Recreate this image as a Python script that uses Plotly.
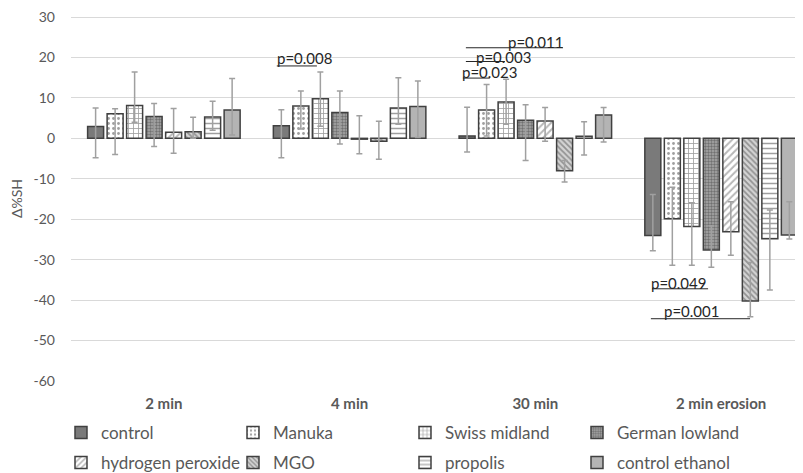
import plotly.graph_objects as go

categories = ["2 min", "4 min", "30 min", "2 min erosion"]
y_tick_values = [30, 20, 10, 0, -10, -20, -30, -40, -50, -60]
y_tick_labels = ["30", "20", "10", "0", "-10", "-20", "-30", "-40", "-50", "-60"]

series_names = ["control", "Manuka", "Swiss midland", "German lowland",
                "hydrogen peroxide", "MGO", "propolis", "control ethanol"]

control = [2.9, 3.1, 0.6, -24.0]
control_hi = [7.5, 7.1, 7.7, -13.9]
control_lo = [-4.8, -4.8, -3.4, -27.8]

manuka = [6.1, 8.0, 7.0, -19.9]
manuka_hi = [7.3, 11.7, 13.3, -12.1]
manuka_lo = [-4.0, 2.3, 0.6, -31.4]

swiss = [8.1, 9.8, 9.0, -21.8]
swiss_hi = [16.4, 16.4, 14.6, -15.9]
swiss_lo = [4.0, 3.0, 3.5, -31.4]

german = [5.4, 6.4, 4.5, -27.6]
german_hi = [8.6, 11.7, 8.3, -21.6]
german_lo = [-2.0, -1.4, -5.5, -31.9]

h2o2 = [1.5, -0.2, 4.3, -23.1]
h2o2_hi = [7.4, 5.6, 7.6, -15.7]
h2o2_lo = [-3.7, -3.8, -0.7, -28.9]

mgo = [1.6, -0.7, -8.0, -40.2]
mgo_hi = [5.2, 4.2, -5.5, -30.7]
mgo_lo = [0.0, -5.2, -10.8, -44.1]

propolis = [5.3, 7.5, 0.5, -24.8]
propolis_hi = [9.2, 15.0, 4.1, -17.7]
propolis_lo = [2.0, 3.5, -4.1, -37.5]

ethanol = [7.0, 7.9, 5.8, -23.9]
ethanol_hi = [14.8, 14.2, 7.6, -15.7]
ethanol_lo = [0.8, 0.2, -0.9, -24.9]

# significance labels: (text, x, y, line_x0, line_x1, line_y)
p_labels = [
    ("p=0.008", 0.757, 19.8, 0.608, 0.824, 17.9),
    ("p=0.011", 2.003, 23.8, 1.626, 2.149, 22.4),
    ("p=0.003", 1.831, 20.2, 1.626, 1.836, 19.0),
    ("p=0.023", 1.755, 16.4, 1.610, 1.755, 14.9),
    ("p=0.049", 2.773, -35.7, 2.628, 2.930, -37.2),
    ("p=0.001", 2.843, -42.6, 2.622, 3.156, -44.6),
]

values = [control, manuka, swiss, german, h2o2, mgo, propolis, ethanol]
highs = [control_hi, manuka_hi, swiss_hi, german_hi, h2o2_hi, mgo_hi, propolis_hi, ethanol_hi]
lows = [control_lo, manuka_lo, swiss_lo, german_lo, h2o2_lo, mgo_lo, propolis_lo, ethanol_lo]

styles = [
    dict(color="#7a7a7a"),
    dict(color="#ffffff", pattern=dict(shape=".", bgcolor="#ffffff", fgcolor="#404040", size=5, solidity=0.25)),
    dict(color="#ffffff", pattern=dict(shape="+", bgcolor="#ffffff", fgcolor="#404040", size=5, solidity=0.3)),
    dict(color="#8a8a8a", pattern=dict(shape=".", bgcolor="#a8a8a8", fgcolor="#3a3a3a", size=3, solidity=0.5)),
    dict(color="#ffffff", pattern=dict(shape="/", bgcolor="#ffffff", fgcolor="#707070", size=5, solidity=0.4)),
    dict(color="#d0d0d0", pattern=dict(shape="\\", bgcolor="#d4d4d4", fgcolor="#505050", size=4, solidity=0.45)),
    dict(color="#ffffff", pattern=dict(shape="-", bgcolor="#ffffff", fgcolor="#404040", size=5, solidity=0.3)),
    dict(color="#b4b4b4"),
]

FONT = "Lato"
GRAY = "#595959"

x_pos = list(range(len(categories)))

fig = go.Figure()
for i, (name, vals, hi, lo, st) in enumerate(zip(series_names, values, highs, lows, styles)):
    plus = [h - v for h, v in zip(hi, vals)]
    minus = [v - l for v, l in zip(vals, lo)]
    marker = dict(line=dict(color="#404040", width=1.5), **st)
    fig.add_trace(go.Bar(
        x=x_pos, y=vals, name=name, marker=marker,
        error_y=dict(type="data", symmetric=False, array=plus, arrayminus=minus,
                     color="#a0a0a0", thickness=1.5, width=3),
        legend="legend" if i < 4 else "legend2",
    ))

for text, x, y, lx0, lx1, ly in p_labels:
    fig.add_annotation(x=x, y=y, xref="x", yref="y", text=text, showarrow=False,
                       font=dict(family=FONT, size=15, color="#262626"))
    fig.add_shape(type="line", xref="x", yref="y", x0=lx0, x1=lx1, y0=ly, y1=ly,
                  line=dict(color="#262626", width=1))

legend_common = dict(orientation="h", xref="container", yref="container",
                     xanchor="left", yanchor="middle", entrywidth=127, entrywidthmode="pixels",
                     font=dict(family=FONT, size=17, color=GRAY), bgcolor="rgba(0,0,0,0)",
                     itemclick=False)

# page is rendered with an 8px body margin, so figure coords are offset by 8px
fig.update_layout(
    width=803, height=473,
    margin=dict(l=63, r=8, t=8, b=100, autoexpand=False),
    paper_bgcolor="white", plot_bgcolor="white",
    barmode="group", bargap=0.16, bargroupgap=0.18,
    showlegend=True,
    legend=dict(x=0.066, y=1 - 425 / 473, **legend_common),
    legend2=dict(x=0.066, y=1 - 455 / 473, **legend_common),
    xaxis=dict(range=[-0.5, 3.441], tickvals=x_pos, ticktext=categories,
               showgrid=False, zeroline=False, showline=False, ticks="",
               ticklabelstandoff=12, automargin=False, ticklabeloverflow="allow",
               tickfont=dict(family=FONT, size=15, color=GRAY, weight="bold")),
    yaxis=dict(range=[-60, 30.25], tickvals=y_tick_values, ticktext=y_tick_labels,
               showgrid=True, gridcolor="#d9d9d9", gridwidth=1, zeroline=False,
               showline=False, ticks="", ticklabelstandoff=15, automargin=False,
               ticklabeloverflow="allow",
               tickfont=dict(family=FONT, size=14, color=GRAY),
               title=dict(text="Δ%SH", font=dict(family=FONT, size=14, color=GRAY), standoff=18)),
    font=dict(family=FONT),
)

fig.write_html("out.html")
